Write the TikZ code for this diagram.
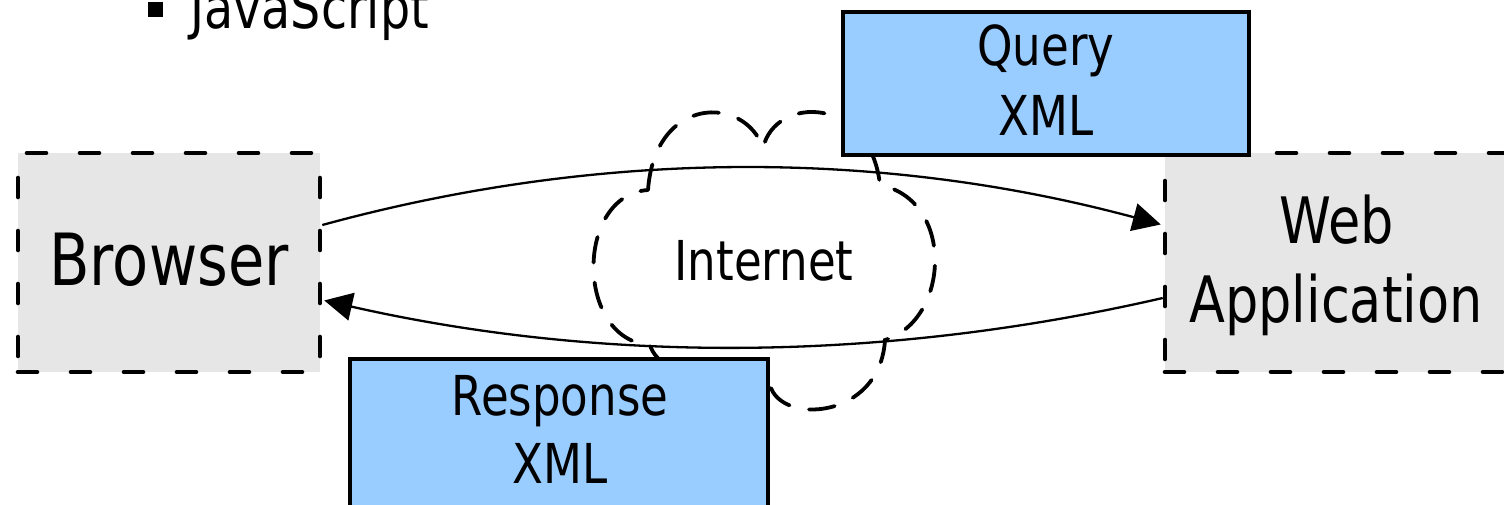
\documentclass[tikz,border=0pt]{standalone}
\usepackage{fontspec}
\setmainfont{DejaVu Sans}[FakeStretch=0.82]
\usetikzlibrary{arrows.meta}
\definecolor{boxgray}{HTML}{E6E6E6}
\definecolor{xmlblue}{HTML}{99CCFF}
\begin{document}
\begin{tikzpicture}[x=0.5pt,y=-0.5pt,
  sysbox/.style={draw, fill=boxgray, line width=2.3pt, dash pattern=on 9.5pt off 17pt, line cap=round, inner sep=0pt},
  xmlbox/.style={draw, fill=xmlblue, line width=1.9pt, inner sep=0pt},
  cloudline/.style={line width=1.9pt, dash pattern=on 13pt off 10pt, line cap=round},
  flow/.style={line width=1.15pt, -{Triangle[length=14pt,width=14pt]}},
  lbl/.style={anchor=base, inner sep=0pt},
  bigtxt/.style={font=\fontsize{36pt}{40pt}\selectfont},
  midtxt/.style={font=\fontsize{32pt}{38pt}\selectfont},
  smalltxt/.style={font=\fontsize{27.5pt}{33pt}\selectfont}
]
\useasboundingbox (0,0) rectangle (1504,504);

% bullet line
\fill (148,2) rectangle (163,17);
\node[lbl, anchor=base west, font=\fontsize{29pt}{34pt}\selectfont] (js) at (190,28) {JavaScript};

% system boxes
\node[sysbox, minimum width=151pt, minimum height=109.5pt] (browser) at (169,262.5) {};
\node[sysbox, minimum width=190pt, minimum height=109.5pt] (webapp) at (1355,262.5) {};

% cloud
\draw[cloudline] (648,190)
  .. controls (655,95) and (745,95) .. (763,148)
  .. controls (775,95) and (870,95) .. (880,185)
  .. controls (955,200) and (950,320) .. (885,340)
  .. controls (880,420) and (780,425) .. (770,385)
  .. controls (750,400) and (660,380) .. (650,345)
  .. controls (575,340) and (575,195) .. (648,190);
\node[lbl, smalltxt] (internet) at (764,280) {Internet};

% flows
\draw[flow, shorten >=1pt] ([yshift=18.75pt]browser.east)
  .. controls (600,149) and (880,149) .. ([yshift=18.75pt]webapp.west);
\draw[flow, shorten >=1pt] ([yshift=-17.75pt]webapp.west)
  .. controls (880,363) and (600,363) .. ([yshift=-18.75pt]browser.east);

% xml boxes
\node[xmlbox, minimum width=203pt, minimum height=71.5pt] (query) at (1046,83.5) {};
\node[xmlbox, minimum width=209pt, minimum height=93pt] (response) at (559,452) {};

% labels
\node[lbl, bigtxt] (tbrowser) at (169,285) {Browser};
\node[lbl, midtxt] (tweb) at (1336.5,243) {Web};
\node[lbl, midtxt] (tapp) at (1336,322) {Application};
\node[lbl, smalltxt] (tquery) at (1046,65) {Query};
\node[lbl, smalltxt] (tqxml) at (1046,135) {XML};
\node[lbl, smalltxt] (tresp) at (560,415) {Response};
\node[lbl, smalltxt] (trxml) at (560,483) {XML};
\end{tikzpicture}
\end{document}
